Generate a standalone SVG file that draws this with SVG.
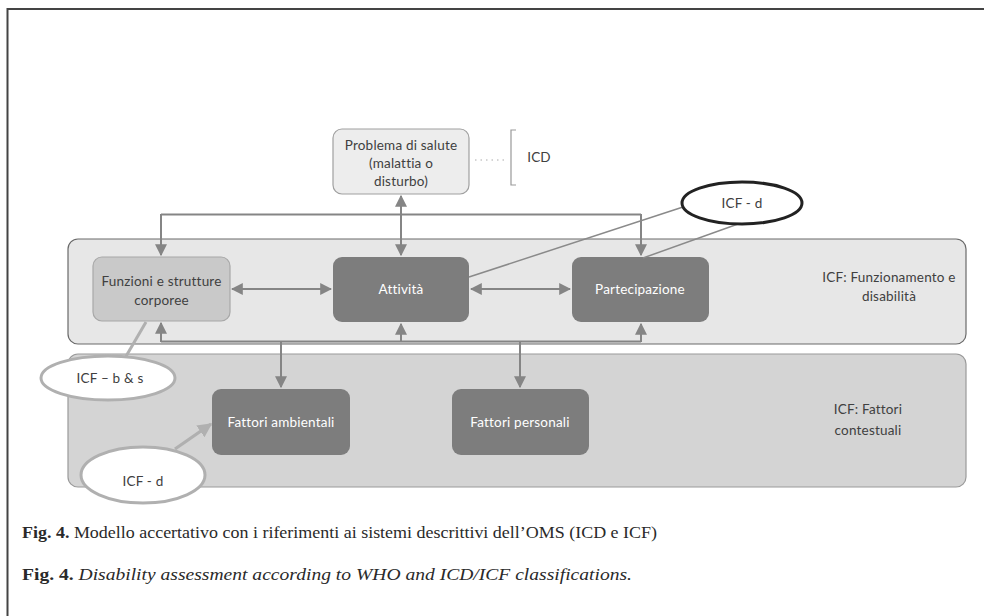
<svg xmlns="http://www.w3.org/2000/svg" width="984" height="616" viewBox="0 0 984 616">
<style>
.t{font-family:Lato,"Open Sans",sans-serif;font-size:13.5px;text-anchor:middle;letter-spacing:0.2px}
.w{fill:#ffffff}
.k{fill:#404040}
.c{stroke:#858585;stroke-width:2;fill:none}
.cap{font-family:"Liberation Serif",serif;font-size:17px;fill:#2a2a2a}
</style>
<defs>
<marker id="ah" viewBox="0 0 10 10" refX="9" refY="5" markerWidth="6" markerHeight="6" markerUnits="strokeWidth" orient="auto-start-reverse">
<path d="M0,0 L10,5 L0,10 z" fill="#858585"/>
</marker>
<marker id="ah2" viewBox="0 0 10 10" refX="9" refY="5" markerWidth="4.5" markerHeight="4.5" markerUnits="strokeWidth" orient="auto">
<path d="M0,0 L10,5 L0,10 z" fill="#b0b0b0"/>
</marker>
</defs>
<rect width="984" height="616" fill="#fff"/>
<path d="M7.5,616 V9 H984" fill="none" stroke="#444" stroke-width="2"/>

<g id="band-funzionamento">
<rect x="68" y="239" width="898" height="105" rx="10" fill="#e7e7e7" stroke="#6a6a6a" stroke-width="1.2"/>
<text class="t k" x="889" y="282">ICF: Funzionamento e</text>
<text class="t k" x="889" y="301">disabilità</text>
</g>
<g id="band-contestuali">
<rect x="68" y="354" width="898" height="133" rx="10" fill="#d4d4d4" stroke="#9a9a9a" stroke-width="1.2"/>
<text class="t k" x="868" y="414">ICF: Fattori</text>
<text class="t k" x="868" y="435">contestuali</text>
</g>

<g id="problema">
<rect x="333" y="129" width="136" height="65" rx="9" fill="#ededed" stroke="#a0a0a0" stroke-width="1.2"/>
<text class="t k" x="401" y="150">Problema di salute</text>
<text class="t k" x="401" y="168">(malattia o</text>
<text class="t k" x="401" y="186">disturbo)</text>
</g>
<g id="icd">
<line x1="475" y1="160" x2="507" y2="160" stroke="#aaa" stroke-width="1" stroke-dasharray="1.5,4"/>
<path d="M516,130 H511 V185 H516" fill="none" stroke="#999" stroke-width="1.2"/>
<text class="t k" x="539" y="162">ICD</text>
</g>

<g id="funzioni">
<rect x="93" y="257" width="137" height="64" rx="9" fill="#c9c9c9" stroke="#a8a8a8" stroke-width="1.2"/>
<text class="t k" x="161.5" y="286">Funzioni e strutture</text>
<text class="t k" x="161.5" y="305">corporee</text>
</g>
<g id="attivita">
<rect x="333" y="257" width="136" height="65" rx="9" fill="#7d7d7d"/>
<text class="t w" x="401" y="294">Attività</text>
</g>
<g id="partecipazione">
<rect x="572" y="257" width="137" height="65" rx="9" fill="#7d7d7d"/>
<text class="t w" x="640" y="294">Partecipazione</text>
</g>
<g id="ambientali">
<rect x="212" y="389" width="138" height="66" rx="9" fill="#7d7d7d"/>
<text class="t w" x="281" y="427">Fattori ambientali</text>
</g>
<g id="personali">
<rect x="452" y="389" width="137" height="66" rx="9" fill="#7d7d7d"/>
<text class="t w" x="520" y="427">Fattori personali</text>
</g>

<g id="connectors">
<line class="c" x1="401" y1="196" x2="401" y2="255" marker-start="url(#ah)" marker-end="url(#ah)"/>
<path class="c" d="M161,214.5 H641"/>
<line class="c" x1="161" y1="214" x2="161" y2="255" marker-end="url(#ah)"/>
<line class="c" x1="641" y1="214" x2="641" y2="255" marker-end="url(#ah)"/>
<line class="c" x1="232" y1="289" x2="331" y2="289" marker-start="url(#ah)" marker-end="url(#ah)"/>
<line class="c" x1="471" y1="289" x2="570" y2="289" marker-start="url(#ah)" marker-end="url(#ah)"/>
<path class="c" d="M161,341.5 H641"/>
<line class="c" x1="161" y1="342" x2="161" y2="323" marker-end="url(#ah)"/>
<line class="c" x1="401" y1="342" x2="401" y2="324" marker-end="url(#ah)"/>
<line class="c" x1="641" y1="342" x2="641" y2="324" marker-end="url(#ah)"/>
<line class="c" x1="281" y1="341" x2="281" y2="387" marker-end="url(#ah)"/>
<line class="c" x1="520" y1="341" x2="520" y2="387" marker-end="url(#ah)"/>
<line x1="683" y1="207" x2="469" y2="277" stroke="#8a8a8a" stroke-width="1.5"/>
<line x1="738" y1="224" x2="643" y2="258" stroke="#8a8a8a" stroke-width="1.5"/>
<line x1="146" y1="322" x2="125" y2="358" stroke="#b0b0b0" stroke-width="3"/>
<line x1="175" y1="449" x2="211" y2="424" stroke="#b0b0b0" stroke-width="3.2" marker-end="url(#ah2)"/>
</g>

<g id="icf-d-top">
<ellipse cx="742" cy="203" rx="60" ry="21" fill="#fff" stroke="#222" stroke-width="3"/>
<text class="t k" x="742" y="208">ICF - d</text>
</g>
<g id="icf-bs">
<ellipse cx="108" cy="378" rx="67" ry="22" fill="#fff" stroke="#b0b0b0" stroke-width="3"/>
<text class="t k" x="110" y="383">ICF – b &amp; s</text>
</g>
<g id="icf-d-bottom">
<ellipse cx="143" cy="475" rx="62" ry="28" fill="#fff" stroke="#b0b0b0" stroke-width="3"/>
<text class="t k" x="143" y="486">ICF - d</text>
</g>

<g id="caption">
<text class="cap" x="22" y="538" textLength="635" lengthAdjust="spacingAndGlyphs"><tspan font-weight="bold">Fig. 4.</tspan> Modello accertativo con i riferimenti ai sistemi descrittivi dell’OMS (ICD e ICF)</text>
<text class="cap" x="22" y="580" textLength="610" lengthAdjust="spacingAndGlyphs"><tspan font-weight="bold">Fig. 4.</tspan> <tspan font-style="italic">Disability assessment according to WHO and ICD/ICF classifications.</tspan></text>
</g>
</svg>
